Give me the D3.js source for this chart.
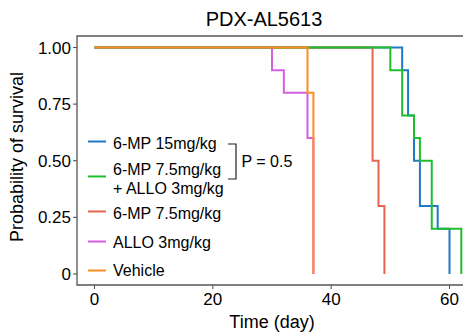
<!DOCTYPE html>
<html>
<head>
<meta charset="utf-8">
<script src="https://cdn.jsdelivr.net/npm/d3@7"></script>
<style>
  body { margin: 0; background: #fff; }
  text { font-family: "Liberation Sans", Arial, sans-serif; fill: #000; }
</style>
</head>
<body>
<div id="survival"></div>
<script>
// survival data per group, times in days
var groups = ["6-MP 15mg/kg", "6-MP 7.5mg/kg + ALLO 3mg/kg", "6-MP 7.5mg/kg", "ALLO 3mg/kg", "Vehicle"];
var colors = ["#1f78c8", "#1fbf2c", "#e6654f", "#d45fe0", "#ff8c1e"];

var timesMP15 = [0, 52, 53, 54, 55, 58, 60];
var survMP15 = [1, 0.9, 0.7, 0.5, 0.3, 0.2, 0];

var timesCombo = [0, 50, 52, 54, 55, 57, 62];
var survCombo = [1, 0.9, 0.7, 0.6, 0.5, 0.2, 0];

var timesMP75 = [0, 47, 48, 49];
var survMP75 = [1, 0.5, 0.3, 0];

var timesAllo = [0, 30, 32, 36, 37];
var survAllo = [1, 0.9, 0.8, 0.6, 0];

var timesVehicle = [0, 36, 37];
var survVehicle = [1, 0.8, 0];

var xTicks = [0, 20, 40, 60];
var yTicks = [0, 0.25, 0.5, 0.75, 1];
var yTickLabels = ["0", "0.25", "0.50", "0.75", "1.00"];

var width = 463, height = 335;
var panel = {left: 77, top: 36, bottom: 285, right: 470};

var svg = d3.select("#survival").append("svg")
    .attr("width", width)
    .attr("height", height);

var xScale = d3.scaleLinear()
    .domain([0, 60])
    .range([94.5, 449.5]);

var yScale = d3.scaleLinear()
    .domain([0, 1])
    .range([274, 47.5]);

// title
svg.append("text")
    .attr("x", 264)
    .attr("y", 26)
    .attr("text-anchor", "middle")
    .style("font-size", "20px")
    .text("PDX-AL5613");

// panel frame: top, left, bottom
var axisColor = "#555";
svg.append("path")
    .attr("d", "M" + panel.right + "," + panel.top + "H" + panel.left + "V" + panel.bottom + "H" + panel.right)
    .attr("fill", "none")
    .attr("stroke", axisColor)
    .attr("stroke-width", 1.3);

// x ticks
xTicks.forEach(function(t) {
  svg.append("line")
      .attr("x1", xScale(t)).attr("x2", xScale(t))
      .attr("y1", panel.bottom).attr("y2", panel.bottom + 4)
      .attr("stroke", axisColor).attr("stroke-width", 1.1);
  svg.append("text")
      .attr("x", xScale(t))
      .attr("y", 305)
      .attr("text-anchor", "middle")
      .style("font-size", "17px")
      .text(t);
});

// y ticks
yTicks.forEach(function(t, i) {
  svg.append("line")
      .attr("x1", panel.left - 4).attr("x2", panel.left)
      .attr("y1", yScale(t)).attr("y2", yScale(t))
      .attr("stroke", axisColor).attr("stroke-width", 1.1);
  svg.append("text")
      .attr("x", panel.left - 6)
      .attr("y", yScale(t))
      .attr("dy", "0.36em")
      .attr("text-anchor", "end")
      .style("font-size", "17px")
      .text(yTickLabels[i]);
});

// axis titles
svg.append("text")
    .attr("x", 272)
    .attr("y", 328)
    .attr("text-anchor", "middle")
    .style("font-size", "18px")
    .text("Time (day)");

svg.append("text")
    .attr("text-anchor", "middle")
    .attr("transform", "translate(" + [23, 157] + ") rotate(-90)")
    .style("font-size", "18px")
    .text("Probability of survival");

// curves, drawn so that the order of overlap matches
var curves = [
  {i: 0, t: timesMP15, s: survMP15},
  {i: 2, t: timesMP75, s: survMP75},
  {i: 3, t: timesAllo, s: survAllo},
  {i: 1, t: timesCombo, s: survCombo},
  {i: 4, t: timesVehicle, s: survVehicle}
];

var line = d3.line()
    .x(function(d) { return xScale(d[0]); })
    .y(function(d) { return yScale(d[1]); })
    .curve(d3.curveStepAfter);

curves.forEach(function(c) {
  var pts = c.t.map(function(t, k) { return [t, c.s[k]]; });
  svg.append("path")
      .datum(pts)
      .attr("d", line)
      .attr("fill", "none")
      .attr("stroke", colors[c.i])
      .attr("stroke-width", 2);
});

// legend
var legendY = [141.5, 176.5, 211.5, 241.5, 270.5];
var legendText = [["6-MP 15mg/kg"], ["6-MP 7.5mg/kg", "+ ALLO 3mg/kg"], ["6-MP 7.5mg/kg"], ["ALLO 3mg/kg"], ["Vehicle"]];
var legendTextY = [[143], [169.5], [213], [242.5], [270]];

groups.forEach(function(g, i) {
  svg.append("line")
      .attr("x1", 88).attr("x2", 106)
      .attr("y1", legendY[i]).attr("y2", legendY[i])
      .attr("stroke", colors[i])
      .attr("stroke-width", 2);
  legendText[i].forEach(function(txt, k) {
    svg.append("text")
        .attr("x", 113)
        .attr("y", legendTextY[i][0] + k * 18.5)
        .attr("dy", "0.36em")
        .style("font-size", "16px")
        .text(txt);
  });
});

// p-value bracket
svg.append("path")
    .attr("d", "M228,144H236V179H228")
    .attr("fill", "none")
    .attr("stroke", "#222")
    .attr("stroke-width", 1.2);

svg.append("text")
    .attr("x", 241.5)
    .attr("y", 161.5)
    .attr("dy", "0.36em")
    .style("font-size", "16px")
    .text("P = 0.5");
</script>
</body>
</html>
